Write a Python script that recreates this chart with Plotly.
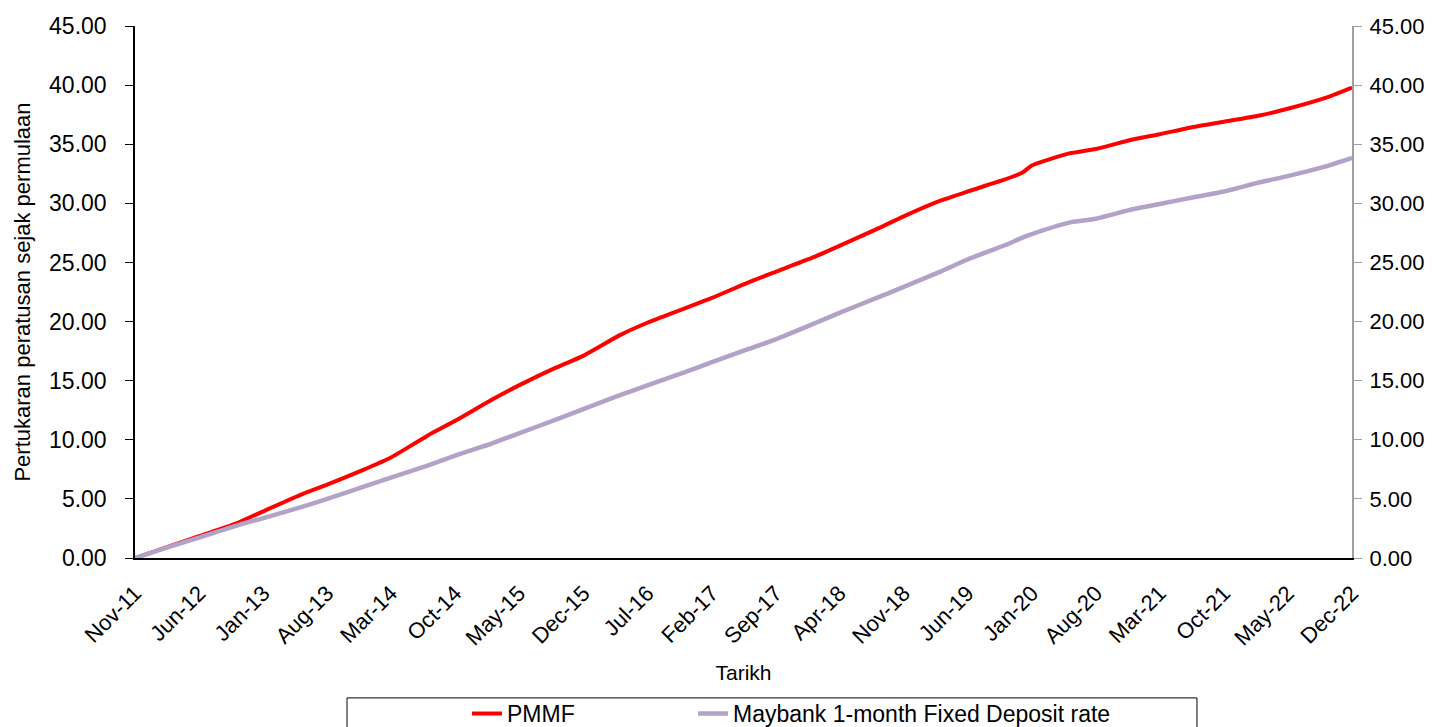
import plotly.graph_objects as go

dates = ["2011-11-01", "2012-03-01", "2012-06-01", "2012-10-01", "2013-01-01", "2013-05-01",
         "2013-08-01", "2013-12-01", "2014-03-01", "2014-07-01", "2014-10-01", "2015-02-01",
         "2015-05-01", "2015-09-01", "2015-12-01", "2016-04-01", "2016-07-01", "2016-11-01",
         "2017-02-01", "2017-06-01", "2017-09-01", "2018-01-01", "2018-04-01", "2018-08-01",
         "2018-11-01", "2019-03-01", "2019-06-01", "2019-10-01", "2019-12-01", "2020-01-01",
         "2020-05-01", "2020-08-01", "2020-12-01", "2021-03-01", "2021-07-01", "2021-10-01",
         "2022-02-01", "2022-05-01", "2022-09-01", "2022-12-01"]

pmmf = [0.00, 1.05, 1.85, 2.90, 3.95, 5.30,
        6.20, 7.47, 8.50, 10.35, 11.60, 13.40,
        14.60, 16.10, 17.10, 18.85, 19.90, 21.10,
        22.00, 23.30, 24.20, 25.40, 26.40, 27.80,
        28.90, 30.20, 31.00, 32.00, 32.60, 33.20,
        34.20, 34.60, 35.40, 35.85, 36.50, 36.90,
        37.45, 38.00, 38.90, 39.80]

maybank = [0.00, 1.00, 1.73, 2.72, 3.38, 4.26,
           5.00, 6.04, 6.80, 7.82, 8.66, 9.70,
           10.55, 11.70, 12.60, 13.77, 14.60, 15.70,
           16.56, 17.66, 18.50, 19.77, 20.73, 21.98,
           22.93, 24.20, 25.25, 26.43, 27.10, 27.40,
           28.35, 28.70, 29.50, 29.95, 30.55, 31.00,
           31.80, 32.30, 33.10, 33.85]

y_ticks = [0, 5, 10, 15, 20, 25, 30, 35, 40, 45]

FONT = "Liberation Sans"

fig = go.Figure()
fig.add_trace(go.Scatter(x=dates, y=pmmf, mode="lines", name="PMMF",
                         legend="legend",
                         line=dict(color="#FF0000", width=4, shape="spline", smoothing=0.6)))
fig.add_trace(go.Scatter(x=dates, y=maybank, mode="lines",
                         name="Maybank 1-month Fixed Deposit rate",
                         legend="legend2",
                         line=dict(color="#B3A2C7", width=4.5, shape="spline", smoothing=0.6)))
fig.add_trace(go.Scatter(x=dates, y=maybank, mode="lines", yaxis="y2",
                         showlegend=False, hoverinfo="skip",
                         line=dict(color="rgba(0,0,0,0)", width=0)))

legend_common = dict(orientation="h", yanchor="top", xanchor="left", y=-0.252,
                     font=dict(size=23), bgcolor="rgba(0,0,0,0)", borderwidth=0)

fig.update_layout(
    width=1428, height=719,
    paper_bgcolor="white", plot_bgcolor="white",
    margin=dict(l=127, r=84, t=18, b=169, autoexpand=False),
    font=dict(family=FONT, size=20, color="black"),
    xaxis=dict(
        type="date", automargin=False,
        range=["2011-11-01", "2022-12-01"],
        tick0="2011-11-01", dtick="M7", tickformat="%b-%y",
        tickangle=-45, showgrid=False, zeroline=False,
        showline=True, linecolor="black", linewidth=1.5,
        ticks="", tickfont=dict(size=22), ticklabelstandoff=12,
        title=dict(text="Tarikh", font=dict(size=21), standoff=16),
    ),
    yaxis=dict(
        range=[0, 45], tickvals=y_ticks, tickformat=".2f", automargin=False,
        showgrid=False, zeroline=False,
        showline=True, linecolor="black", linewidth=1.5,
        ticks="outside", ticklen=8, tickcolor="black",
        tickfont=dict(size=23), ticklabelstandoff=14,
        title=dict(text="Pertukaran peratusan sejak permulaan", font=dict(size=22), standoff=12),
    ),
    yaxis2=dict(
        range=[0, 45], tickvals=y_ticks, tickformat=".2f", automargin=False,
        overlaying="y", side="right", showgrid=False, zeroline=False,
        showline=True, linecolor="#A0A0A0", linewidth=2,
        ticks="outside", ticklen=8, tickcolor="#A0A0A0",
        tickfont=dict(size=22), ticklabelstandoff=3,
    ),
    legend=dict(x=0.2728, **legend_common),
    legend2=dict(x=0.4585, **legend_common),
    shapes=[dict(type="rect", xref="paper", yref="paper",
                 x0=0.1742, x1=0.8726, y0=-0.345, y1=-0.263,
                 line=dict(color="black", width=1), fillcolor="rgba(0,0,0,0)", layer="below")],
)

fig.write_html("out.html")
